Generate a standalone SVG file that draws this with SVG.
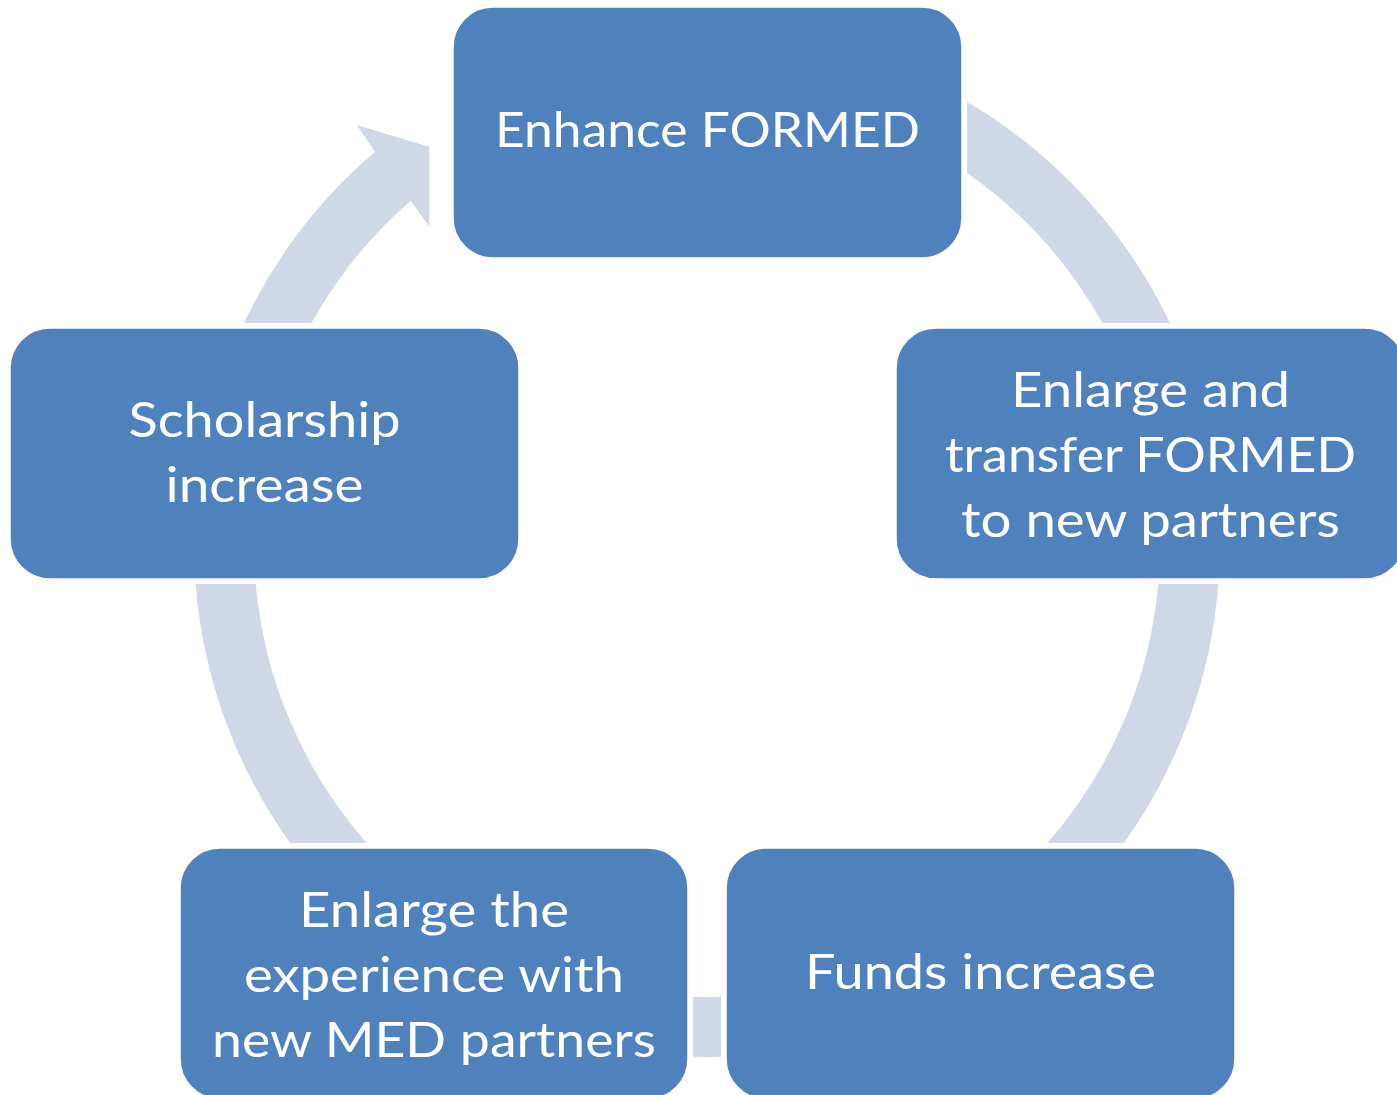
<svg xmlns="http://www.w3.org/2000/svg" width="1397" height="1095" viewBox="0 0 1397 1095">
  <style>
    .ring { fill: #D0D8E8; stroke: none; }
    .box { fill: #4F81BD; stroke: #FFFFFF; stroke-width: 1.5; }
    .lbl { fill: #FFFFFF; font-family: Lato, "Open Sans", "Liberation Sans", sans-serif; font-size: 48px; text-anchor: middle; }
  </style>
  <rect x="0" y="0" width="1397" height="1095" fill="#FFFFFF"/>
  <g id="connectors">
    <path class="ring" d="M967,101.8 A513,513 0 0 1 1170,323 L1102.4,323 A453,453 0 0 0 967,173 Z"/>
    <path class="ring" d="M1218.4,584 A513,513 0 0 1 1123.9,843 L1047.3,843 A453,453 0 0 0 1158.2,584 Z"/>
    <path class="ring" d="M721,1056.8 A513,513 0 0 1 693,1056.8 L693,996.8 A453,453 0 0 0 721,996.8 Z"/>
    <path class="ring" d="M290.1,843 A513,513 0 0 1 195.6,584 L255.8,584 A453,453 0 0 0 366.7,843 Z"/>
    <path class="ring" d="M244.05,323 A513,513 0 0 1 375,151.7 L356.7,125 L429.3,146.7 L429.3,226.7 L410.7,200.7 A453,453 0 0 0 311.6,323 Z"/>
  </g>
  <g id="node-enhance">
    <rect class="box" x="453" y="7" width="509" height="251" rx="40" ry="40"/>
    <text class="lbl" x="707.5" y="146.5" textLength="425" lengthAdjust="spacingAndGlyphs">Enhance FORMED</text>
  </g>
  <g id="node-enlarge-transfer">
    <rect class="box" x="896" y="328" width="509" height="251" rx="40" ry="40"/>
    <text class="lbl" x="1150.5" y="406.5" textLength="279" lengthAdjust="spacingAndGlyphs">Enlarge and</text>
    <text class="lbl" x="1150.5" y="471.5" textLength="411" lengthAdjust="spacingAndGlyphs">transfer FORMED</text>
    <text class="lbl" x="1150.5" y="536.5" textLength="379" lengthAdjust="spacingAndGlyphs">to new partners</text>
  </g>
  <g id="node-funds">
    <rect class="box" x="726" y="848" width="509" height="251" rx="40" ry="40"/>
    <text class="lbl" x="980.5" y="989" textLength="351" lengthAdjust="spacingAndGlyphs">Funds increase</text>
  </g>
  <g id="node-enlarge-experience">
    <rect class="box" x="180" y="848" width="508" height="251" rx="40" ry="40"/>
    <text class="lbl" x="434" y="926.5" textLength="270" lengthAdjust="spacingAndGlyphs">Enlarge the</text>
    <text class="lbl" x="434" y="991.5" textLength="380" lengthAdjust="spacingAndGlyphs">experience with</text>
    <text class="lbl" x="434" y="1056.5" textLength="444" lengthAdjust="spacingAndGlyphs">new MED partners</text>
  </g>
  <g id="node-scholarship">
    <rect class="box" x="10" y="328" width="509" height="251" rx="40" ry="40"/>
    <text class="lbl" x="264.5" y="436.5" textLength="272" lengthAdjust="spacingAndGlyphs">Scholarship</text>
    <text class="lbl" x="264.5" y="501.5" textLength="198" lengthAdjust="spacingAndGlyphs">increase</text>
  </g>
</svg>
